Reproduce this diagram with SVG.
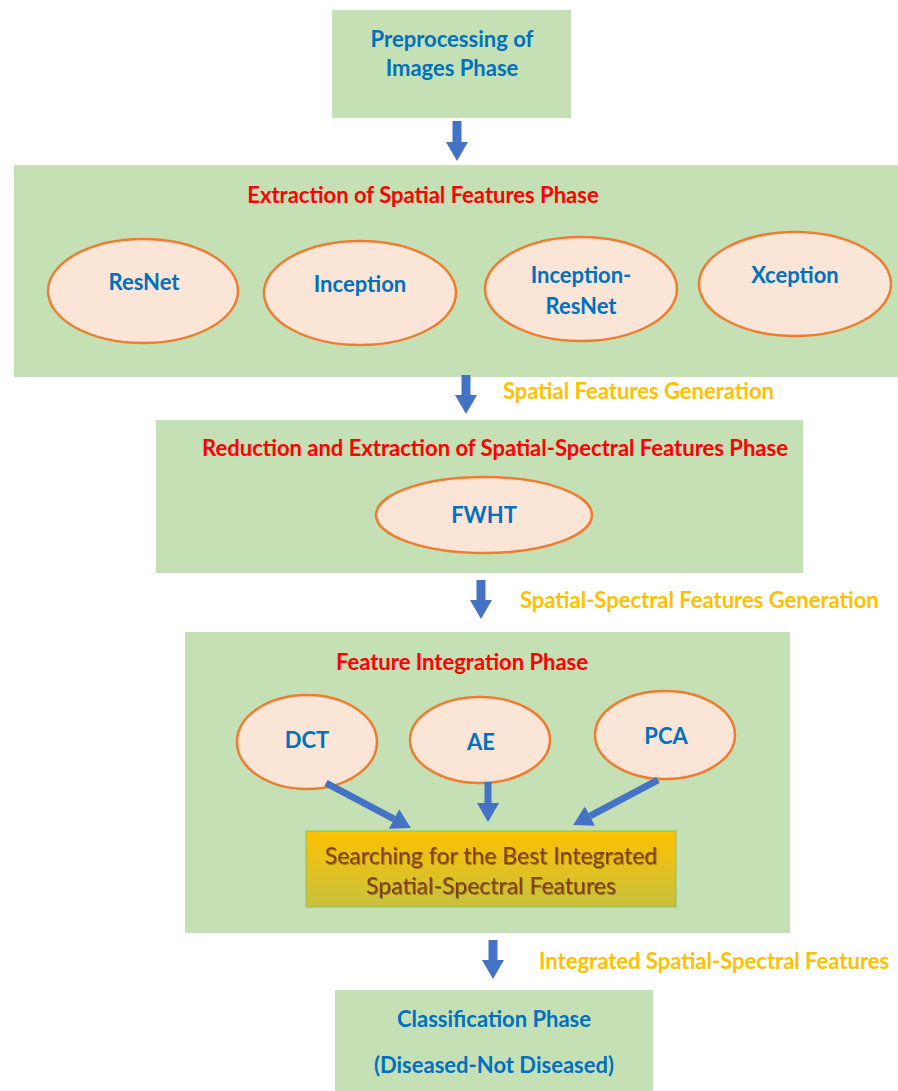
<svg xmlns="http://www.w3.org/2000/svg" width="898" height="1091" viewBox="0 0 898 1091">
<defs>
<marker id="ah" markerUnits="userSpaceOnUse" markerWidth="20" markerHeight="24" refX="0" refY="11" orient="auto" viewBox="0 0 20 22">
<path d="M0,0 L19,11 L0,22 z" fill="#4472C4"/>
</marker>
<linearGradient id="gold" x1="0" y1="0" x2="0" y2="1">
<stop offset="0" stop-color="#FFC000"/>
<stop offset="1" stop-color="#C7C23E"/>
</linearGradient>
<filter id="sh" x="-5%" y="-20%" width="110%" height="140%">
<feDropShadow dx="1" dy="1" stdDeviation="0.6" flood-color="#000" flood-opacity="0.35"/>
</filter>
</defs>
<style>
.box{fill:#C5E0B4;}
.ell{fill:#FBE5D6;stroke:#ED7D31;stroke-width:2.5;}
.t{font-family:Lato,"Open Sans","Liberation Sans",sans-serif;font-weight:bold;text-anchor:middle;}
.blue{fill:#0070C0;font-size:22px;}
.red{fill:#FF0000;font-size:22px;}
.org{fill:#FFC000;font-size:22px;text-anchor:start;}
.conn line{stroke:#4472C4;stroke-width:9;marker-end:url(#ah);}
.conn line.d{stroke-width:7;}
</style>
<rect width="898" height="1091" fill="#fff"/>

<g id="preprocessing">
<rect class="box" x="332" y="10" width="239" height="108"/>
<text class="t blue" x="452" y="47">Preprocessing of</text>
<text class="t blue" x="452" y="76">Images Phase</text>
</g>

<g id="spatial-phase">
<rect class="box" x="14" y="165" width="884" height="212"/>
<text class="t red" x="423" y="203">Extraction of Spatial Features Phase</text>
</g>
<g id="resnet">
<ellipse class="ell" cx="143" cy="291" rx="95" ry="52"/>
<text class="t blue" x="144" y="290">ResNet</text>
</g>
<g id="inception">
<ellipse class="ell" cx="360" cy="293" rx="96" ry="52"/>
<text class="t blue" x="360" y="292">Inception</text>
</g>
<g id="inception-resnet">
<ellipse class="ell" cx="581" cy="289" rx="96" ry="52"/>
<text class="t blue" x="581" y="283">Inception-</text>
<text class="t blue" x="581" y="314">ResNet</text>
</g>
<g id="xception">
<ellipse class="ell" cx="795" cy="284" rx="96" ry="52"/>
<text class="t blue" x="795" y="283">Xception</text>
</g>

<g id="label-spatial">
<text class="t org" x="503" y="399">Spatial Features Generation</text>
</g>

<g id="reduction-phase">
<rect class="box" x="156" y="420" width="647" height="153"/>
<text class="t red" x="495" y="456">Reduction and Extraction of Spatial-Spectral Features Phase</text>
</g>
<g id="fwht">
<ellipse class="ell" cx="484" cy="515" rx="108" ry="38"/>
<text class="t blue" x="484" y="523">FWHT</text>
</g>

<g id="label-spectral">
<text class="t org" x="520" y="608">Spatial-Spectral Features Generation</text>
</g>

<g id="integration-phase">
<rect class="box" x="185" y="632" width="605" height="301"/>
<text class="t red" x="462" y="670">Feature Integration Phase</text>
</g>
<g id="dct">
<ellipse class="ell" cx="307" cy="742" rx="70" ry="47"/>
<text class="t blue" x="307" y="748">DCT</text>
</g>
<g id="ae">
<ellipse class="ell" cx="480" cy="740" rx="70" ry="43"/>
<text class="t blue" x="481" y="750">AE</text>
</g>
<g id="pca">
<ellipse class="ell" cx="665" cy="735" rx="70" ry="44"/>
<text class="t blue" x="666" y="744">PCA</text>
</g>
<g id="search">
<rect x="306" y="831" width="370" height="76" fill="url(#gold)" stroke="#8DBF5A" stroke-width="1"/>
<g filter="url(#sh)" style="font-family:Lato,'Open Sans','Liberation Sans',sans-serif;font-size:23px;fill:#843C0C;text-anchor:middle;">
<text x="491" y="864">Searching for the Best Integrated</text>
<text x="491" y="894">Spatial-Spectral Features</text>
</g>
</g>

<g id="label-integrated">
<text class="t org" x="539" y="969">Integrated Spatial-Spectral Features</text>
</g>

<g id="classification">
<rect class="box" x="335" y="990" width="318" height="101"/>
<text class="t blue" x="494" y="1027">Classification Phase</text>
<text class="t blue" x="494" y="1073">(Diseased-Not Diseased)</text>
</g>

<g class="conn" id="connectors">
<line x1="457" y1="121" x2="457" y2="142"/>
<line x1="466" y1="375" x2="466" y2="395"/>
<line x1="481" y1="580" x2="481" y2="600"/>
<line x1="493" y1="940" x2="493" y2="960"/>
<line class="d" x1="326" y1="783" x2="394" y2="819"/>
<line class="d" x1="488" y1="782" x2="488" y2="803"/>
<line class="d" x1="658" y1="780" x2="590" y2="816"/>
</g>
</svg>
